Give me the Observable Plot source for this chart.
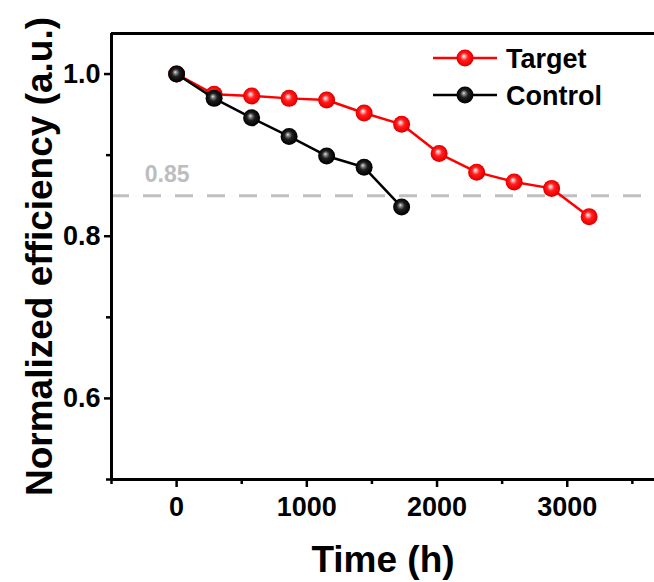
<!DOCTYPE html>
<html>
<head>
<meta charset="utf-8">
<script src="https://cdn.jsdelivr.net/npm/d3@7"></script>
<script src="https://cdn.jsdelivr.net/npm/@observablehq/plot@0.6"></script>
<style>
  html, body { margin: 0; padding: 0; background: #fff; }
  #chart { width: 654px; height: 582px; }
</style>
</head>
<body>
<div id="chart"></div>
<script>
// Stability test: normalized efficiency vs. aging time
const hours = [0, 288, 576, 864, 1152, 1440, 1728, 2016, 2304, 2592, 2880, 3168];
const targetEff = [1.0, 0.975, 0.973, 0.970, 0.968, 0.952, 0.938, 0.902, 0.879, 0.867, 0.859, 0.824];
const controlEff = [1.0, 0.970, 0.946, 0.923, 0.899, 0.885, 0.836];
const seriesNames = ["Target", "Control"];
const seriesColors = ["#ff0000", "#000000"];
const threshold = 0.85;
const xMajorTicks = [0, 1000, 2000, 3000];
const xMinorTicks = [-500, 500, 1500, 2500, 3500];
const yMajorTicks = [0.6, 0.8, 1.0];
const yMinorTicks = [0.5, 0.7, 0.9];

const target = hours.map((h, i) => ({h, v: targetEff[i]}));
const control = controlEff.map((v, i) => ({h: hours[i], v}));

const font = "'Liberation Sans', Arial, sans-serif";
const xDomain = [-500, 3670];
const yDomain = [0.5, 1.05];
const blank = () => "";

const svg = Plot.plot({
  width: 654,
  height: 582,
  marginLeft: 111,
  marginRight: 0,
  marginTop: 33,
  marginBottom: 103,
  style: {fontFamily: font, fontWeight: "bold", color: "#000", background: "#fff", overflow: "visible"},
  x: {domain: xDomain},
  y: {domain: yDomain},
  marks: [
    // threshold line and its label
    Plot.ruleY([threshold], {stroke: "#c0c0c0", strokeWidth: 3, strokeDasharray: "18,14"}),
    Plot.text([threshold], {x: -245, y: d => d, text: d => d.toFixed(2), fill: "#bdbdbd",
      fontSize: 23, fontWeight: "bold", textAnchor: "start", dy: -21}),
    // axes
    Plot.axisX(xMajorTicks, {tickSize: 8, tickPadding: 9, fontSize: 27, fontWeight: "bold",
      strokeWidth: 2.5, label: null, tickFormat: d => String(d)}),
    Plot.axisX(xMinorTicks, {tickSize: 5, strokeWidth: 2.5, label: null, tickFormat: blank}),
    Plot.axisY(yMajorTicks, {tickSize: 7, tickPadding: 4, fontSize: 27, fontWeight: "bold",
      strokeWidth: 2.5, label: null, tickFormat: d3.format(".1f")}),
    Plot.axisY(yMinorTicks, {tickSize: 5, strokeWidth: 2.5, label: null, tickFormat: blank}),
    // frame: left, top, bottom
    Plot.ruleX([xDomain[0]], {strokeWidth: 3}),
    Plot.ruleY([yDomain[0], yDomain[1]], {strokeWidth: 3}),
    // axis titles
    Plot.text(["Time (h)"], {frameAnchor: "bottom", dy: 81, lineAnchor: "middle",
      fontSize: 37, fontWeight: "bold"}),
    Plot.text(["Normalized efficiency (a.u.)"], {frameAnchor: "left", rotate: -90, dx: -71,
      textAnchor: "middle", lineAnchor: "middle", fontSize: 37, fontWeight: "bold"}),
    // series
    Plot.line(target, {x: "h", y: "v", stroke: seriesColors[0], strokeWidth: 2.5}),
    Plot.dot(target, {x: "h", y: "v", r: 8.5, fill: "url(#ball-red)", stroke: "none"}),
    Plot.line(control, {x: "h", y: "v", stroke: seriesColors[1], strokeWidth: 2.5}),
    Plot.dot(control, {x: "h", y: "v", r: 8.5, fill: "url(#ball-black)", stroke: "none"})
  ]
});

// glossy sphere gradients for the markers
const root = d3.select(svg);
const defs = root.insert("defs", ":first-child");
function ball(id, stops) {
  const g = defs.append("radialGradient").attr("id", id)
    .attr("cx", "0.5").attr("cy", "0.5").attr("r", "0.55")
    .attr("fx", "0.42").attr("fy", "0.38");
  stops.forEach(([o, c]) => g.append("stop").attr("offset", o).attr("stop-color", c));
}
ball("ball-red", [["0%", "#ffffff"], ["14%", "#ffb0b0"], ["40%", "#ff2020"], ["80%", "#f00000"], ["100%", "#b00000"]]);
ball("ball-black", [["0%", "#f0f0f0"], ["14%", "#909090"], ["42%", "#202020"], ["80%", "#050505"], ["100%", "#000000"]]);

// legend in the upper right of the frame
const legend = root.append("g").attr("font-family", font).attr("font-weight", "bold");
seriesNames.forEach((name, i) => {
  const y = 58 + i * 37;
  const row = legend.append("g").attr("transform", `translate(433,${y})`);
  row.append("line").attr("x1", 0).attr("x2", 64).attr("y1", 0).attr("y2", 0)
    .attr("stroke", seriesColors[i]).attr("stroke-width", 2.5);
  row.append("circle").attr("cx", 32).attr("cy", 0).attr("r", 8.5)
    .attr("fill", i === 0 ? "url(#ball-red)" : "url(#ball-black)");
  row.append("text").attr("x", 73).attr("y", 0).attr("dy", "0.36em")
    .attr("text-anchor", "start").attr("font-size", 27).attr("fill", "#000").text(name);
});

document.getElementById("chart").appendChild(svg);
</script>
</body>
</html>
